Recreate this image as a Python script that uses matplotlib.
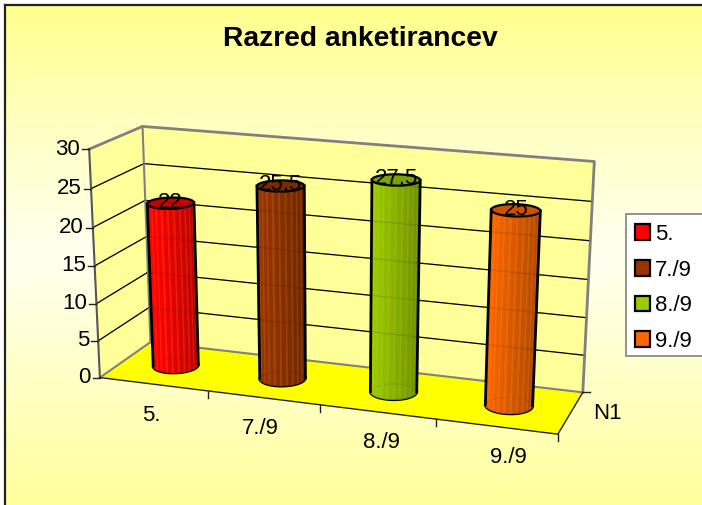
import matplotlib
matplotlib.use("Agg")
import matplotlib.pyplot as plt
import numpy as np
from matplotlib.colors import LinearSegmentedColormap, to_rgb
from matplotlib.patches import Patch, Polygon, Rectangle

plt.rcParams['font.family'] = ['Liberation Sans', 'DejaVu Sans']

# data
categories = ["5.", "7./9", "8./9", "9./9"]
values = [22, 25.5, 27.5, 25]
value_labels = ["22", "25,5", "27,5", "25"]
bar_colors = ["#FF0000", "#993300", "#99CC00", "#FF6600"]
y_ticks = [0, 5, 10, 15, 20, 25, 30]
series_label = "N1"

W, H = 702, 505
fig = plt.figure(figsize=(W / 100, H / 100), dpi=100)
ax = fig.add_axes([0, 0, 1, 1])

# background gradient
bg = LinearSegmentedColormap.from_list(
    "bg", [(0, "#FFFF8C"), (0.25, "#FFFFC4"), (0.5, "#FFFFF0"), (1, "#FFFF9C")])
ax.imshow(np.linspace(0, 1, 256).reshape(-1, 1), cmap=bg, aspect="auto",
          extent=(5, W + 2, H + 2, 5), zorder=0)
ax.plot([5, 5], [H, 5], color="#222222", lw=1.6, zorder=1)
ax.plot([5, W], [5, 5], color="#222222", lw=1.6, zorder=1)
ax.set_xlim(0, W)
ax.set_ylim(H, 0)
ax.axis("off")

# perspective box: fit a camera from the corners of the plot cube
n_cat = len(categories)
y_max = y_ticks[-1]
cube = np.array([[0, 0, 0], [n_cat, 0, 0], [0, 1, 0], [n_cat, 1, 0],
                 [0, 0, y_max], [n_cat, 0, y_max], [0, 1, y_max], [n_cat, 1, y_max]], float)
screen = np.array([[99, 376], [558, 433], [151, 344], [583, 393],
                   [89, 147], [570, 194], [143, 128], [593, 157]], float)
rows, rhs = [], []
for (a, b, c), (u, v) in zip(cube, screen):
    rows.append([a, b, c, 1, 0, 0, 0, 0, -u * a, -u * b, -u * c])
    rows.append([0, 0, 0, 0, a, b, c, 1, -v * a, -v * b, -v * c])
    rhs += [u, v]
P = np.linalg.lstsq(np.array(rows), np.array(rhs), rcond=None)[0]
P = np.append(P, 1).reshape(3, 4)


def proj(x, d, v):
    x, d, v = np.broadcast_arrays(np.asarray(x, float), np.asarray(d, float), np.asarray(v, float))
    p = P @ np.array([x, d, v, np.ones_like(x)])
    return p[0] / p[2], p[1] / p[2]


def xy(x, d, v):
    return np.column_stack(proj(x, d, v))


# walls and floor
wall = "#FFFF99"
grey = "#808080"
ax.add_patch(Polygon(xy([0, 0, 0, 0], [0, 1, 1, 0], [0, 0, y_max, y_max]), fc=wall, ec="none", zorder=2))
ax.add_patch(Polygon(xy([0, n_cat, n_cat, 0], [1, 1, 1, 1], [0, 0, y_max, y_max]), fc=wall, ec="none", zorder=2))
ax.add_patch(Polygon(xy([0, n_cat, n_cat, 0], [0, 0, 1, 1], [0, 0, 0, 0]), fc="#FFFF00", ec="none", zorder=2))


def grid(zorder, alpha=1.0, lw=0.9):
    for t in y_ticks[1:-1]:
        pts = xy([0, 0, n_cat], [0, 1, 1], [t, t, t])
        ax.plot(pts[:, 0], pts[:, 1], color="black", lw=lw, alpha=alpha, zorder=zorder)


grid(3)
# wall edges
edge = xy([0, 0, n_cat, n_cat], [0, 1, 1, 1], [y_max, y_max, y_max, 0])
ax.plot(edge[:, 0], edge[:, 1], color=grey, lw=2, zorder=3)
edge = xy([0, 0, n_cat], [0, 1, 1], [0, 0, 0])
ax.plot(edge[:, 0], edge[:, 1], color=grey, lw=1.5, zorder=3)
edge = xy([0, 0], [1, 1], [0, y_max])
ax.plot(edge[:, 0], edge[:, 1], color=grey, lw=1.5, zorder=3)
edge = xy([0, 0], [0, 0], [0, y_max])
ax.plot(edge[:, 0], edge[:, 1], color="#555555", lw=1.5, zorder=3)

# front and side axis lines, ticks
edge = xy([0, n_cat, n_cat], [0, 0, 1], [0, 0, 0])
ax.plot(edge[:, 0], edge[:, 1], color="#222222", lw=1, zorder=3)
for i in range(1, n_cat + 1):
    px, py = proj(i, 0, 0)
    ax.plot([px, px], [py, py + 7], color="#222222", lw=1, zorder=3)
px, py = proj(n_cat, 1, 0)
ax.plot([px, px + 7], [py, py], color="#222222", lw=1, zorder=3)
for t in y_ticks:
    px, py = proj(0, 0, t)
    ax.plot([px - 7, px], [py, py], color="#222222", lw=1, zorder=3)
    ax.text(px - 9, py, str(t), ha="right", va="center", fontsize=16, zorder=6)

# cylinders
r_x, r_d = 0.195, 0.2
theta = np.linspace(0, 2 * np.pi, 73)
for i, (val, col) in enumerate(zip(values, bar_colors)):
    cx = i + 0.48
    cd = 0.5
    base = np.array(to_rgb(col))
    ring_x = cx + r_x * np.cos(theta)
    ring_d = cd + r_d * np.sin(theta)
    bottom = xy(ring_x, ring_d, 0 * theta)
    top = xy(ring_x, ring_d, val + 0 * theta)
    ax.add_patch(Polygon(bottom, fc=base, ec="black", lw=2, zorder=4))
    xmin, xmax = bottom[:, 0].min(), bottom[:, 0].max()
    order = np.argsort(-np.sin(theta[:-1]))
    for k in order:
        quad = np.array([bottom[k], bottom[k + 1], top[k + 1], top[k]])
        f = (quad[:, 0].mean() - xmin) / (xmax - xmin)
        shade = base * (1.02 - 0.3 * f)
        if k % 3 == 0:
            shade = shade * 0.85 + np.array([1, 0.8, 0.2]) * 0.15
        ax.add_patch(Polygon(quad, fc=np.clip(shade, 0, 1), ec=np.clip(shade, 0, 1), lw=0.2, zorder=4))
    # silhouette
    il, ir = np.argmin(bottom[:, 0]), np.argmax(bottom[:, 0])
    jl, jr = np.argmin(top[:, 0]), np.argmax(top[:, 0])
    ax.plot([bottom[il, 0], top[jl, 0]], [bottom[il, 1], top[jl, 1]], color="black", lw=2, zorder=4)
    ax.plot([bottom[ir, 0], top[jr, 0]], [bottom[ir, 1], top[jr, 1]], color="black", lw=2, zorder=4)
    ax.add_patch(Polygon(top, fc=base * 0.8, ec="black", lw=1.6, zorder=4))
    tx, ty = proj(cx, cd, val)
    ax.text(tx, ty - 1, value_labels[i], ha="center", va="center", fontsize=16, zorder=6)

grid(5, alpha=0.12)

# category labels, set below the front edge
label_dx = [-2, -3, 4, 12]
for i, name in enumerate(categories):
    px, py = proj(i + 0.5, 0, 0)
    ax.text(px + label_dx[i], py + 31, name, ha="center", va="center", fontsize=16, zorder=6)
px, py = proj(n_cat, 0.5, 0)
ax.text(px + 37, py + 1, series_label, ha="center", va="center", fontsize=16, zorder=6)

ax.text(360, 39, "Razred anketirancev", ha="center", va="center", fontsize=20.3, fontweight="bold", zorder=6)

# legend box drawn by hand so its height matches, entries from ax.legend
ax.add_patch(Rectangle((626, 214), 80, 142, fc="white", ec=grey, lw=1.2, zorder=7))
handles = [Patch(fc=c, ec="black", lw=1.6, label=n) for c, n in zip(bar_colors, categories)]
leg = ax.legend(handles=handles, loc="upper left", bbox_to_anchor=(626, 215), bbox_transform=ax.transData,
                fontsize=16, frameon=False,
                handlelength=0.7, handleheight=0.7, handletextpad=0.2, labelspacing=0.66,
                borderpad=0.4, borderaxespad=0)
leg.set_zorder(8)

fig.savefig("out.png", dpi=100)
